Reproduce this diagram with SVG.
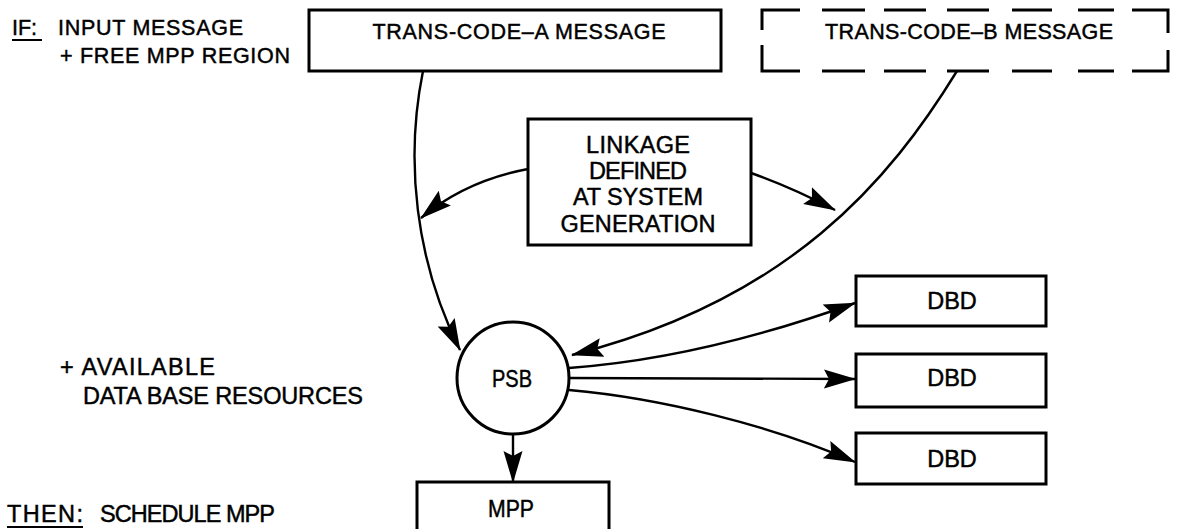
<svg xmlns="http://www.w3.org/2000/svg" width="1177" height="529" viewBox="0 0 1177 529">
  <defs>
    <marker id="arr" markerUnits="userSpaceOnUse" markerWidth="32" markerHeight="22" viewBox="0 0 32 22" refX="31" refY="11" orient="auto">
      <path d="M0,1.5 L32,11 L0,20.5 L5,11 z" fill="#000"/>
    </marker>
  </defs>
  <style>
    text { font-family: "Liberation Sans", Arial, sans-serif; fill: #000; stroke: #000; stroke-width: 0.45; }
    .box { fill: #fff; stroke: #000; stroke-width: 3; }
    .dash { fill: none; stroke: #000; stroke-width: 3; }
    .conn { fill: none; stroke: #000; stroke-width: 2.4; }
    .ul { stroke: #000; stroke-width: 2; }
    .lbl { font-size: 21.5px; }
    .big { font-size: 23.5px; }
    .mid { text-anchor: middle; }
  </style>
  <rect width="1177" height="529" fill="#fff"/>

  <g id="conditions">
    <text class="lbl" y="35"><tspan x="12">IF:</tspan><tspan x="58" textLength="185" lengthAdjust="spacing">INPUT MESSAGE</tspan></text>
    <line class="ul" x1="12" y1="40" x2="42" y2="40"/>
    <text class="lbl" x="60" y="63" textLength="230" lengthAdjust="spacing">+ FREE MPP REGION</text>
    <text class="big" x="60" y="375" textLength="155" lengthAdjust="spacing">+ AVAILABLE</text>
    <text class="big" x="83" y="404" textLength="280" lengthAdjust="spacing">DATA BASE RESOURCES</text>
    <text class="big" y="522"><tspan x="7" textLength="76" lengthAdjust="spacing">THEN:</tspan><tspan x="100" textLength="175" lengthAdjust="spacing">SCHEDULE MPP</tspan></text>
    <line class="ul" x1="7" y1="527" x2="83" y2="527"/>
  </g>

  <g id="connectors">
    <path class="conn" d="M423,71 C405,160 415,260 460,350" marker-end="url(#arr)"/>
    <path class="conn" d="M957,71 C890,180 790,300 572,355" marker-end="url(#arr)"/>
    <path class="conn" d="M528,169 C480,178 445,198 421,218" marker-end="url(#arr)"/>
    <path class="conn" d="M751,173 C785,185 812,198 835,210" marker-end="url(#arr)"/>
    <path class="conn" d="M569,368 C680,360 780,330 855,303" marker-end="url(#arr)"/>
    <path class="conn" d="M569,378 L855,379" marker-end="url(#arr)"/>
    <path class="conn" d="M569,390 C660,398 770,425 855,462" marker-end="url(#arr)"/>
    <path class="conn" d="M513,435 L513,482" marker-end="url(#arr)"/>
  </g>

  <g id="transA">
    <rect class="box" x="309" y="10" width="412" height="61"/>
    <text class="lbl mid" x="519" y="39" textLength="293" lengthAdjust="spacing">TRANS-CODE–A MESSAGE</text>
  </g>

  <g id="transB">
    <path class="dash" d="M762,30 V10 H800 M822,10 H865 M884,10 H926 M947,10 H989 M1012,10 H1052 M1078,10 H1114 M1132,10 H1168 V33 M1168,50 V71 H1132 M1114,71 H1078 M1052,71 H1012 M989,71 H947 M926,71 H884 M865,71 H822 M800,71 H762 V45"/>
    <text class="lbl mid" x="969" y="39" textLength="288" lengthAdjust="spacing">TRANS-CODE–B MESSAGE</text>
  </g>

  <g id="linkage">
    <rect class="box" x="528" y="119" width="223" height="126"/>
    <text class="big mid" x="638" y="153" textLength="104" lengthAdjust="spacing">LINKAGE</text>
    <text class="big mid" x="638" y="179" textLength="98" lengthAdjust="spacing">DEFINED</text>
    <text class="big mid" x="638" y="205" textLength="130" lengthAdjust="spacing">AT SYSTEM</text>
    <text class="big mid" x="638" y="232" textLength="155" lengthAdjust="spacing">GENERATION</text>
  </g>

  <g id="psb">
    <circle class="box" cx="513" cy="378" r="56"/>
    <text class="big mid" x="512" y="387" textLength="40" lengthAdjust="spacingAndGlyphs">PSB</text>
  </g>

  <g id="mpp">
    <rect class="box" x="417" y="482" width="192" height="60"/>
    <text class="big mid" x="511" y="517" textLength="46" lengthAdjust="spacingAndGlyphs">MPP</text>
  </g>

  <g id="dbd1">
    <rect class="box" x="856" y="276" width="190" height="50"/>
    <text class="big mid" x="952" y="309">DBD</text>
  </g>
  <g id="dbd2">
    <rect class="box" x="856" y="354" width="190" height="53"/>
    <text class="big mid" x="952" y="386">DBD</text>
  </g>
  <g id="dbd3">
    <rect class="box" x="856" y="433" width="190" height="51"/>
    <text class="big mid" x="952" y="467">DBD</text>
  </g>
</svg>
